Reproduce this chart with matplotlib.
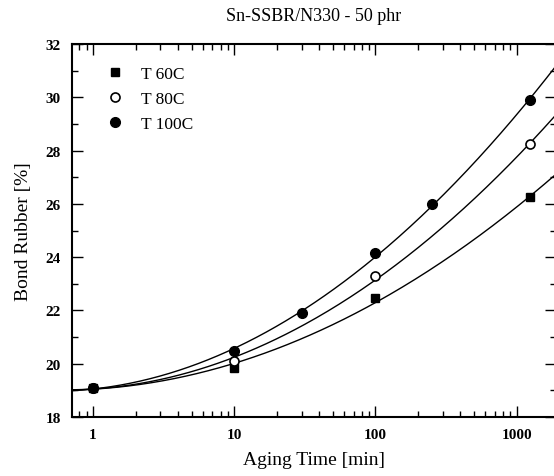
import numpy as np
import matplotlib
matplotlib.use("Agg")
import matplotlib.pyplot as plt
from matplotlib.ticker import LogLocator, FixedLocator, NullFormatter, FuncFormatter

plt.rcParams['font.family'] = ['Liberation Serif', 'DejaVu Serif']

title = "Sn-SSBR/N330 - 50 phr"
x_label = "Aging Time [min]"
y_label = "Bond Rubber [%]"

t60_x = [1, 10, 100, 1250]
t60_y = [19.1, 19.85, 22.45, 26.25]
t80_x = [1, 10, 100, 1250]
t80_y = [19.1, 20.1, 23.28, 28.25]
t100_x = [1, 10, 30, 100, 253, 1250]
t100_y = [19.1, 20.47, 21.9, 24.14, 26.0, 29.9]

labels = ["T 60C", "T 80C", "T 100C"]
x_ticks = [1, 10, 100, 1000]
y_ticks = [18, 20, 22, 24, 26, 28, 30, 32]

fig = plt.figure(figsize=(5.54, 4.77), dpi=100)
W, H = 554, 477
left, right, top, bottom = 72, 556, 45, 418
ax = fig.add_axes([left / W, 1 - bottom / H, (right - left) / W, (bottom - top) / H])

ax.set_xscale('log')
ax.set_xlim(0.71, 1900)
ax.set_ylim(18, 32)

xs = np.logspace(np.log10(0.71), np.log10(1900), 300)
series = [
    (t60_x, t60_y, dict(marker='s', mfc='black', mec='black', ms=6)),
    (t80_x, t80_y, dict(marker='o', mfc='white', mec='black', ms=6.5, mew=1.2)),
    (t100_x, t100_y, dict(marker='o', mfc='black', mec='black', ms=7)),
]
handles = []
for (sx, sy, st), lab in zip(series, labels):
    coef = np.polyfit(np.log10(sx), sy, 2)
    ax.plot(xs, np.polyval(coef, np.log10(xs)), color='black', lw=1.0, zorder=2)
    h, = ax.plot(sx, sy, linestyle='none', zorder=3, label=lab, **st)
    handles.append(h)

ax.xaxis.set_major_locator(FixedLocator(x_ticks))
ax.xaxis.set_major_formatter(FuncFormatter(lambda v, p: f"{int(v)}"))
ax.xaxis.set_minor_locator(LogLocator(base=10, subs=np.arange(2, 10), numticks=20))
ax.xaxis.set_minor_formatter(NullFormatter())
ax.yaxis.set_major_locator(FixedLocator(y_ticks))
ax.yaxis.set_minor_locator(FixedLocator([19, 21, 23, 25, 27, 29, 31]))

ax.tick_params(which='both', direction='in', top=True, right=True, width=1.0)
ax.tick_params(which='major', length=8, labelsize=11, pad=8)
ax.tick_params(which='minor', length=4)
for lab in ax.get_xticklabels() + ax.get_yticklabels():
    lab.set_fontweight('bold')
for s in ax.spines.values():
    s.set_linewidth(1.5)

ax.set_xlabel(x_label, fontsize=14, labelpad=7)
ax.set_ylabel(y_label, fontsize=14, labelpad=10)
ax.set_title(title, fontsize=13, pad=17)

ax.legend(handles=handles, loc='upper left', frameon=False, fontsize=12.5,
          bbox_to_anchor=(0.045, 0.97), handletextpad=0.9, labelspacing=0.52,
          handlelength=1.2, borderaxespad=0.2)

fig.savefig("out.png", dpi=100)
